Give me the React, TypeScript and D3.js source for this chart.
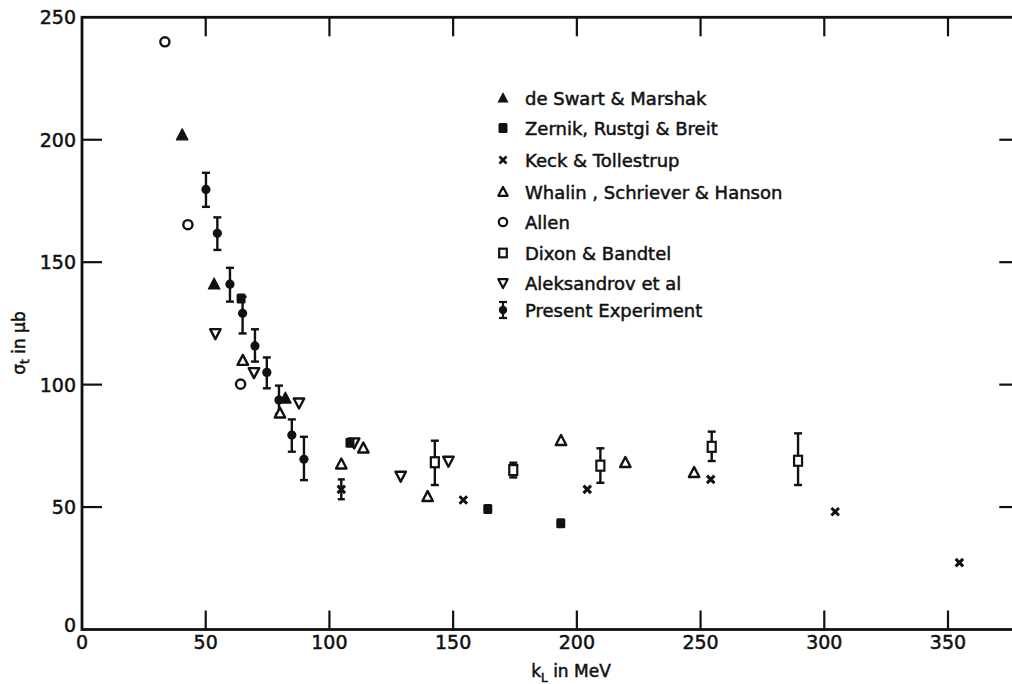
import { useEffect, useRef } from "react"
import * as d3 from "d3"

// [k (MeV), sigma (µb)]
type Pt = [number, number]
// [k, sigma, low, high]
type ErrPt = [number, number, number, number]

const deSwart: Pt[] = [[40.5, 201.9], [53.4, 141.0], [82.2, 94.4]]
const zernik: Pt[] = [[64.3, 135.2], [108.3, 76.3], [164.0, 49.2], [193.5, 43.4]]
const keck: Pt[] = [[104.8, 57.2], [154.1, 52.9], [204.2, 57.2], [254.1, 61.3], [304.4, 48.1], [354.6, 27.3]]
const keckErr: ErrPt[] = [[104.8, 57.2, 53.2, 61.3]]
const whalin: Pt[] = [
  [65.0, 109.8], [80.0, 88.3], [104.8, 67.5], [113.7, 74.0],
  [139.7, 54.2], [193.6, 77.1], [219.6, 68.1], [247.4, 64.0],
]
const allen: Pt[] = [[33.5, 240.0], [42.8, 165.3], [64.1, 100.2]]
const dixon: ErrPt[] = [
  [142.6, 68.3, 59.0, 77.1],
  [174.3, 65.1, 62.1, 68.1],
  [209.5, 66.9, 59.9, 74.0],
  [254.5, 74.6, 68.8, 80.8],
  [289.4, 68.9, 59.0, 80.1],
]
const aleksandrov: Pt[] = [[53.9, 120.9], [69.5, 105.0], [87.7, 92.6], [110.0, 76.3], [128.8, 62.7], [148.1, 68.8]]
const present: ErrPt[] = [
  [50.1, 179.7, 172.6, 186.5],
  [54.7, 161.8, 155.0, 168.3],
  [59.8, 141.0, 133.9, 147.7],
  [64.9, 129.1, 120.9, 135.9],
  [69.9, 115.8, 109.4, 122.6],
  [74.7, 105.0, 98.5, 111.1],
  [79.6, 93.7, 88.0, 99.6],
  [84.8, 79.4, 72.6, 85.8],
  [89.7, 69.5, 61.0, 78.7],
]

const xTicks = [0, 50, 100, 150, 200, 250, 300, 350]
const yTicks = [0, 50, 100, 150, 200, 250]

const legendLabels = [
  "de Swart & Marshak",
  "Zernik, Rustgi & Breit",
  "Keck &  Tollestrup",
  "Whalin , Schriever & Hanson",
  "Allen",
  "Dixon & Bandtel",
  "Aleksandrov et al",
  "Present Experiment",
]

const INK = "#111"
const FONT = "DejaVu Sans, sans-serif"

const triUp = (s: number) => `M0,${-s * 0.6}L${s * 0.55},${s * 0.45}L${-s * 0.55},${s * 0.45}Z`
const triDown = (s: number) => `M0,${s * 0.6}L${s * 0.55},${-s * 0.45}L${-s * 0.55},${-s * 0.45}Z`
const cross = (s: number) => `M${-s / 2},${-s / 2}L${s / 2},${s / 2}M${s / 2},${-s / 2}L${-s / 2},${s / 2}`

const App = () => {
  const svgRef = useRef<SVGSVGElement | null>(null)

  useEffect(() => {
    document.body.style.margin = "0"
    const width = 1012
    const height = 684

    const x = d3.scaleLinear().domain([0, 350]).range([82, 948])
    const y = d3.scaleLinear().domain([0, 250]).range([629.5, 17.3])
    const xRight = x(378)

    const svg = d3.select(svgRef.current).attr("width", width).attr("height", height)
    svg.selectAll("*").remove()
    svg.append("rect").attr("width", width).attr("height", height).attr("fill", "white")

    // frame
    svg
      .append("rect")
      .attr("x", x(0))
      .attr("y", y(250))
      .attr("width", xRight - x(0))
      .attr("height", y(0) - y(250))
      .attr("fill", "none")
      .attr("stroke", INK)
      .attr("stroke-width", 2.8)

    const tickG = svg.append("g").attr("stroke", INK).attr("stroke-width", 2.2)
    xTicks.filter((d) => d > 0).forEach((d) => {
      tickG.append("line").attr("x1", x(d)).attr("x2", x(d)).attr("y1", y(0)).attr("y2", y(0) - 19)
      tickG.append("line").attr("x1", x(d)).attr("x2", x(d)).attr("y1", y(250)).attr("y2", y(250) + 19)
    })
    yTicks.filter((d) => d > 0 && d < 250).forEach((d) => {
      tickG.append("line").attr("x1", x(0)).attr("x2", x(0) + 20).attr("y1", y(d)).attr("y2", y(d))
      tickG.append("line").attr("x1", xRight).attr("x2", xRight - 18).attr("y1", y(d)).attr("y2", y(d))
    })

    const labelStyle = (sel: d3.Selection<SVGTextElement, unknown, null, undefined>) =>
      sel
        .attr("font-family", FONT)
        .attr("font-size", 18)
        .attr("fill", INK)
        .attr("stroke", INK)
        .attr("stroke-width", 0.5)

    xTicks.forEach((d) => {
      labelStyle(svg.append("text"))
        .attr("x", x(d))
        .attr("y", 642)
        .attr("text-anchor", "middle")
        .attr("dominant-baseline", "central")
        .attr("font-size", 19)
        .text(d)
    })
    yTicks.forEach((d) => {
      labelStyle(svg.append("text"))
        .attr("x", 76)
        .attr("y", d === 0 ? y(d) - 5 : y(d))
        .attr("text-anchor", "end")
        .attr("dominant-baseline", "central")
        .attr("font-size", 19)
        .text(d)
    })

    // axis titles
    const xt = labelStyle(svg.append("text"))
      .attr("x", 571)
      .attr("y", 677)
      .attr("text-anchor", "middle")
      .attr("font-size", 17)
    xt.append("tspan").text("k")
    xt.append("tspan").attr("font-size", 12).attr("dy", 5).text("L")
    xt.append("tspan").attr("dy", -5).text(" in MeV")

    const yt = labelStyle(svg.append("text"))
      .attr("transform", "translate(25,343) rotate(-90)")
      .attr("text-anchor", "middle")
      .attr("font-size", 17)
    yt.append("tspan").text("σ")
    yt.append("tspan").attr("font-size", 12).attr("dy", 4).text("t")
    yt.append("tspan").attr("dy", -4).text("  in μb")

    const marks = svg.append("g")

    // error bars
    const drawErr = (data: ErrPt[], cap: number) => {
      data.forEach(([k, , lo, hi]) => {
        const g = marks.append("g").attr("stroke", INK).attr("stroke-width", 2.4)
        g.append("line").attr("x1", x(k)).attr("x2", x(k)).attr("y1", y(lo)).attr("y2", y(hi))
        g.append("line").attr("x1", x(k) - cap / 2).attr("x2", x(k) + cap / 2).attr("y1", y(lo)).attr("y2", y(lo))
        g.append("line").attr("x1", x(k) - cap / 2).attr("x2", x(k) + cap / 2).attr("y1", y(hi)).attr("y2", y(hi))
      })
    }
    drawErr(present, 8)
    drawErr(dixon, 8)
    drawErr(keckErr, 7)

    const drawPath = (data: Pt[], d: string, filled: boolean, sw = 2) => {
      marks
        .selectAll(null)
        .data(data)
        .enter()
        .append("path")
        .attr("transform", (p) => `translate(${x(p[0])},${y(p[1])})`)
        .attr("d", d)
        .attr("fill", filled ? INK : "white")
        .attr("stroke", INK)
        .attr("stroke-width", sw)
        .attr("stroke-linejoin", "round")
    }

    drawPath(deSwart, triUp(10.5), true, 1.2)
    drawPath(whalin, triUp(9.5), false, 2.4)
    drawPath(aleksandrov, triDown(9.5), false, 2.4)

    marks
      .selectAll(null)
      .data(zernik)
      .enter()
      .append("rect")
      .attr("x", (p) => x(p[0]) - 4.5)
      .attr("y", (p) => y(p[1]) - 5)
      .attr("width", 9)
      .attr("height", 10)
      .attr("rx", 1.5)
      .attr("fill", INK)

    marks
      .selectAll(null)
      .data(dixon)
      .enter()
      .append("rect")
      .attr("x", (p) => x(p[0]) - 4)
      .attr("y", (p) => y(p[1]) - 5)
      .attr("width", 8)
      .attr("height", 10)
      .attr("fill", "white")
      .attr("stroke", INK)
      .attr("stroke-width", 2.2)

    marks
      .selectAll(null)
      .data(allen)
      .enter()
      .append("circle")
      .attr("cx", (p) => x(p[0]))
      .attr("cy", (p) => y(p[1]))
      .attr("r", 4.6)
      .attr("fill", "none")
      .attr("stroke", INK)
      .attr("stroke-width", 2.4)

    marks
      .selectAll(null)
      .data(present)
      .enter()
      .append("circle")
      .attr("cx", (p) => x(p[0]))
      .attr("cy", (p) => y(p[1]))
      .attr("r", 4.6)
      .attr("fill", INK)

    drawPath(keck, cross(7.5), false, 3)

    // legend
    const legRows = [98, 128, 160, 192, 222, 253, 283, 310]
    const lx = 503
    const leg = svg.append("g")
    legendLabels.forEach((label, i) => {
      const cy = legRows[i]
      const g = leg.append("g").attr("transform", `translate(${lx},${cy})`)
      if (i === 0) g.append("path").attr("d", triUp(10)).attr("fill", INK)
      if (i === 1) g.append("rect").attr("x", -4.5).attr("y", -5).attr("width", 9).attr("height", 10).attr("rx", 1.5).attr("fill", INK)
      if (i === 2) g.append("path").attr("d", cross(7)).attr("stroke", INK).attr("stroke-width", 2.6)
      if (i === 3) g.append("path").attr("d", triUp(8.5)).attr("fill", "none").attr("stroke", INK).attr("stroke-width", 2.2).attr("stroke-linejoin", "round")
      if (i === 4) g.append("circle").attr("r", 4.2).attr("fill", "none").attr("stroke", INK).attr("stroke-width", 2.2)
      if (i === 5) g.append("rect").attr("x", -3.8).attr("y", -4.3).attr("width", 7.6).attr("height", 8.6).attr("fill", "none").attr("stroke", INK).attr("stroke-width", 2.2)
      if (i === 6) g.append("path").attr("d", triDown(8.5)).attr("fill", "none").attr("stroke", INK).attr("stroke-width", 2.2).attr("stroke-linejoin", "round")
      if (i === 7) {
        g.append("line").attr("y1", -8).attr("y2", 8).attr("stroke", INK).attr("stroke-width", 2.2)
        g.append("line").attr("x1", -4).attr("x2", 4).attr("y1", -8).attr("y2", -8).attr("stroke", INK).attr("stroke-width", 2.2)
        g.append("line").attr("x1", -4).attr("x2", 4).attr("y1", 8).attr("y2", 8).attr("stroke", INK).attr("stroke-width", 2.2)
        g.append("circle").attr("r", 4.2).attr("fill", INK)
      }
      labelStyle(leg.append("text"))
        .attr("x", 525)
        .attr("y", cy)
        .attr("font-size", 18)
        .attr("dominant-baseline", "central")
        .text(label)
    })
  }, [])

  return (
    <div style={{ position: "absolute", left: 0, top: 0 }}>
      <svg ref={svgRef}></svg>
    </div>
  )
}

export default App
